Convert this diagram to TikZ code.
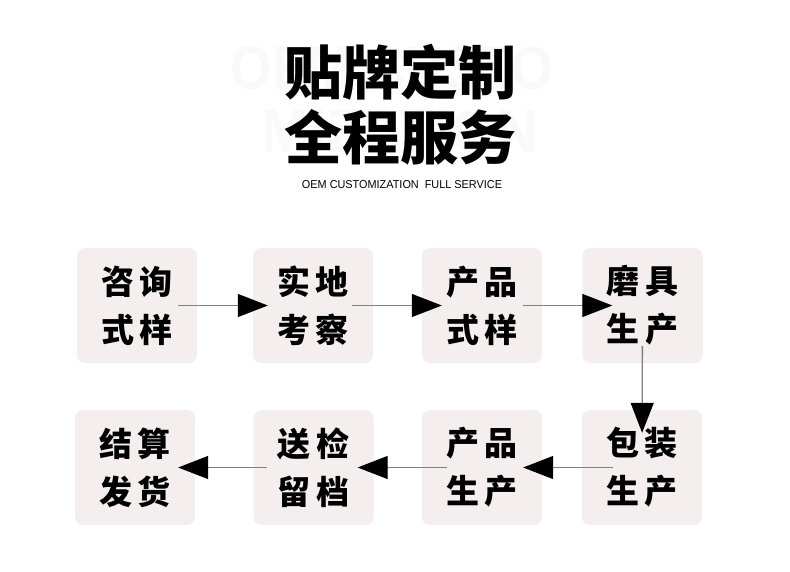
\documentclass[tikz,border=0pt]{standalone}
\usepackage{fontspec}
\usetikzlibrary{arrows.meta,calc}
\setsansfont{Liberation Sans}
\newfontfamily\cjk{Noto Sans CJK SC}
\newfontfamily\cjkheavy{Noto Sans CJK SC Black}
\definecolor{box_grey}{RGB}{244, 238, 238}
\definecolor{line_grey}{RGB}{128, 128, 128}
\definecolor{ghost}{RGB}{249, 249, 249}
\tikzstyle{pbox}=[rectangle,rounded corners=8pt,fill=box_grey,draw=none,
  minimum width=120pt,minimum height=115pt,inner sep=0pt,align=center,
  font=\cjk\bfseries\fontsize{33}{48}\selectfont]
\tikzstyle{flow}=[draw=line_grey,line width=1.3pt,
  -{Triangle[length=30pt,width=23pt,color=black]}]
\tikzstyle{none}=[]
\newcommand{\cgap}{\hspace{6pt}}

\begin{document}
\begin{tikzpicture}[x=1pt, y=-1pt]
        \useasboundingbox [fill=white] (0, 0) rectangle (790, 572);
        % heading
        \node [style=none, text=ghost, font=\sffamily\bfseries] (20) at (392, 68) {\resizebox{323pt}{43pt}{OEM CUSTO}};
        \node [style=none, text=ghost, font=\sffamily\bfseries] (21) at (400, 131) {\resizebox{276pt}{43pt}{MIZATION}};
        \node [style=none, font=\cjkheavy\fontsize{58}{58}\selectfont] (22) at (400, 72) {贴牌定制};
        \node [style=none, font=\cjkheavy\fontsize{58}{58}\selectfont] (23) at (400, 137) {全程服务};
        \node [style=none, font=\sffamily] (24) at (402, 185) {\resizebox{200pt}{8pt}{OEM CUSTOMIZATION\ \ FULL SERVICE}};
        % steps
        \node [style=pbox] (0) at (137, 305.5) {咨\cgap 询\\式\cgap 样};
        \node [style=pbox] (1) at (313, 305.5) {实\cgap 地\\考\cgap 察};
        \node [style=pbox] (2) at (482, 305.5) {产\cgap 品\\式\cgap 样};
        \node [style=pbox] (3) at (642.5, 305.5) {磨\cgap 具\\生\cgap 产};
        \node [style=pbox] (4) at (642, 467.5) {包\cgap 装\\生\cgap 产};
        \node [style=pbox] (5) at (482, 467.5) {产\cgap 品\\生\cgap 产};
        \node [style=pbox] (6) at (313.5, 467.5) {送\cgap 检\\留\cgap 档};
        \node [style=pbox] (7) at (135, 467.5) {结\cgap 算\\发\cgap 货};
        \draw [style=flow, shorten <=-19pt, shorten >=-15pt] (0) to (1);
        \draw [style=flow, shorten <=-21pt, shorten >=-20pt] (1) to (2);
        \draw [style=flow, shorten <=-19pt, shorten >=-30pt] (2) to (3);
        \draw [style=flow, shorten <=-17pt, shorten >=-23pt] (3) to (4);
        \draw [style=flow, shorten <=-31pt, shorten >=-19pt] (4) to (5);
        \draw [style=flow, shorten <=-25pt, shorten >=-16pt] (5) to (6);
        \draw [style=flow, shorten <=-14pt, shorten >=-17pt] (6) to (7);
\end{tikzpicture}
\end{document}
